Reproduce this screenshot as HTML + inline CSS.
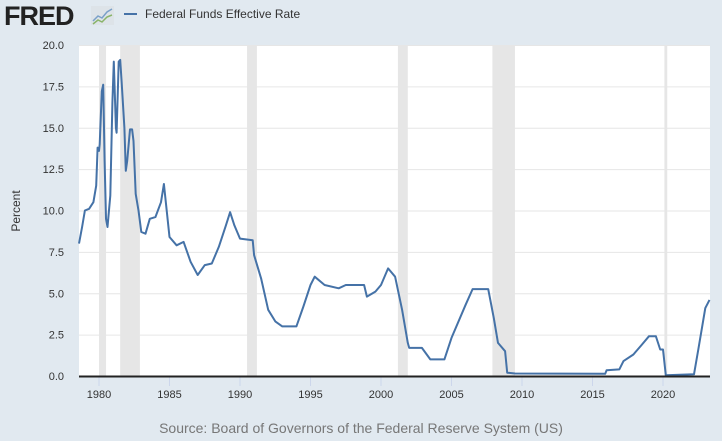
<!DOCTYPE html>
<html><head><meta charset="utf-8"><style>
body{margin:0;background:#e1e9f0;}
svg{display:block;font-family:"Liberation Sans",sans-serif;}
</style></head><body>
<svg id="s" width="722" height="441" viewBox="0 0 722 441">
<rect width="722" height="441" fill="#e1e9f0"/>
<text x="4" y="25" font-size="27" font-weight="bold" fill="#222" letter-spacing="-1">FRED</text>
<rect x="91" y="6" width="23" height="19" fill="#dde3e8"/>
<polyline points="93,21 98,16 102,18 107,12 112,9" fill="none" stroke="#7aa0c8" stroke-width="1.5"/>
<polyline points="93,24 98,20 102,22 107,17 112,15" fill="none" stroke="#8ab46a" stroke-width="1.5"/>
<line x1="124" y1="14" x2="137" y2="14" stroke="#4572a7" stroke-width="2"/>
<text x="145" y="18" font-size="12" fill="#333">Federal Funds Effective Rate</text>
<rect x="79" y="45" width="631" height="331" fill="#fff"/>
<g id="rec" fill="#e6e6e6"></g>
<g id="grid" stroke="#e6e6e6" stroke-width="1"></g>
<g id="lab" font-size="11" fill="#333"></g>
<path id="ln" fill="none" stroke="#4572a7" stroke-width="2" stroke-linejoin="round"/>
<line x1="79" y1="376.5" x2="710" y2="376.5" stroke="#222" stroke-width="2"/>
<text transform="translate(20,211) rotate(-90)" font-size="12" fill="#333" text-anchor="middle">Percent</text>
<text x="361" y="433" font-size="14" fill="#777" text-anchor="middle">Source: Board of Governors of the Federal Reserve System (US)</text>
</svg>
<script>
const X=y=>99+(y-1980)*14.1, Y=v=>376-v*16.55, NS="http://www.w3.org/2000/svg";
function el(p,t,a,txt){const e=document.createElementNS(NS,t);for(const k in a)e.setAttribute(k,a[k]);if(txt)e.textContent=txt;document.getElementById(p).appendChild(e);}
[[1980,1980.5],[1981.5,1982.9],[1990.5,1991.2],[2001.2,2001.9],[2007.9,2009.5],[2020.1,2020.3]].forEach(r=>el("rec","rect",{x:X(r[0]),y:45,width:X(r[1])-X(r[0]),height:331}));
for(let v=2.5;v<=20;v+=2.5)el("grid","line",{x1:79,x2:710,y1:Y(v)+.5,y2:Y(v)+.5});
for(let v=0;v<=20;v+=2.5)el("lab","text",{x:64,y:Y(v)+4,"text-anchor":"end"},v.toFixed(1));
for(let y=1980;y<=2020;y+=5){el("grid","line",{x1:X(y),x2:X(y),y1:377,y2:386,stroke:"#ccd6eb"});el("lab","text",{x:X(y),y:398,"text-anchor":"middle"},String(y));}
const d=[[1978.58,8.0],[1978.8,9.0],[1979.0,10.0],[1979.3,10.1],[1979.6,10.5],[1979.8,11.5],[1979.9,13.8],[1980.0,13.6],[1980.05,14],[1980.2,17.2],[1980.3,17.6],[1980.4,13.0],[1980.5,9.5],[1980.6,9.0],[1980.8,10.9],[1980.95,16.5],[1981.05,19.0],[1981.2,15.0],[1981.25,14.7],[1981.4,19.0],[1981.5,19.1],[1981.6,17.8],[1981.8,15.0],[1981.9,12.4],[1982.0,13.0],[1982.2,14.9],[1982.35,14.9],[1982.45,14.2],[1982.6,11.0],[1982.8,10.0],[1983.0,8.7],[1983.3,8.6],[1983.6,9.5],[1984.0,9.6],[1984.4,10.5],[1984.6,11.6],[1984.8,10.0],[1985.0,8.4],[1985.5,7.9],[1986.0,8.1],[1986.5,6.9],[1987.0,6.1],[1987.5,6.7],[1988.0,6.8],[1988.5,7.8],[1989.0,9.1],[1989.3,9.9],[1989.6,9.1],[1990.0,8.3],[1990.9,8.2],[1991.0,7.3],[1991.5,5.9],[1992.0,4.0],[1992.5,3.3],[1993.0,3.0],[1994.0,3.0],[1994.5,4.2],[1995.0,5.5],[1995.3,6.0],[1996.0,5.5],[1997.0,5.3],[1997.5,5.5],[1998.8,5.5],[1999.0,4.8],[1999.6,5.1],[2000.0,5.5],[2000.5,6.5],[2001.0,6.0],[2001.5,4.0],[2001.9,2.0],[2002.0,1.7],[2002.9,1.7],[2003.5,1.0],[2004.5,1.0],[2005.0,2.3],[2006.0,4.3],[2006.5,5.25],[2007.6,5.25],[2008.0,3.5],[2008.3,2.0],[2008.8,1.5],[2008.95,0.2],[2009.5,0.15],[2015.9,0.13],[2016.0,0.35],[2016.9,0.4],[2017.2,0.9],[2017.9,1.3],[2018.5,1.9],[2019.0,2.4],[2019.5,2.4],[2019.8,1.6],[2020.0,1.6],[2020.2,0.05],[2022.2,0.1],[2022.5,1.6],[2022.8,3.1],[2023.0,4.1],[2023.3,4.6]];
document.getElementById("ln").setAttribute("d","M"+d.map(p=>X(p[0]).toFixed(1)+","+Y(p[1]).toFixed(1)).join("L"));
</script>
</body></html>
